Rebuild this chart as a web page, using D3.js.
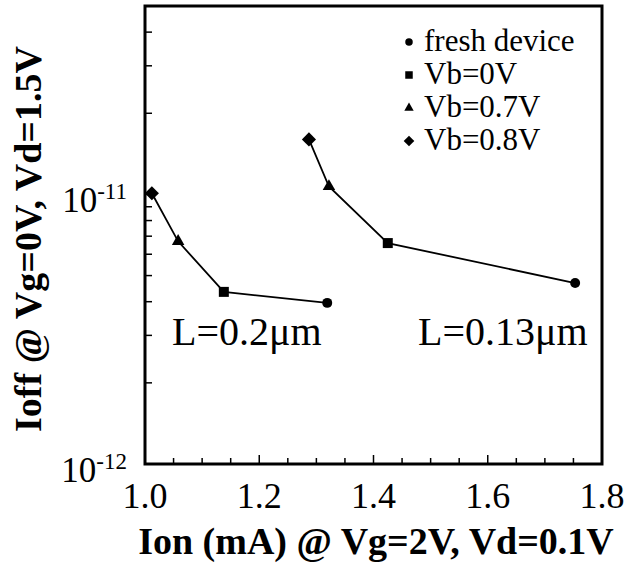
<!DOCTYPE html>
<html><head><meta charset="utf-8">
<script src="https://cdn.jsdelivr.net/npm/d3@7"></script>
<style>body{margin:0;background:#fff}text{font-family:"Liberation Serif","Times New Roman",serif;fill:#000}</style>
</head><body><svg id="c" width="630" height="567"></svg>
<script>
const seriesNames = ["fresh device","Vb=0V","Vb=0.7V","Vb=0.8V"];
const markerTypes = ["circle","square","triangle","diamond"];
// L=0.2um device: order Vb=0.8, 0.7, 0, fresh
const ionL02 = [1.012, 1.058, 1.138, 1.319];
const ioffL02 = [1.01e-11, 6.7e-12, 4.35e-12, 3.96e-12];
// L=0.13um device
const ionL013 = [1.287, 1.322, 1.425, 1.753];
const ioffL013 = [1.60e-11, 1.07e-11, 6.6e-12, 4.69e-12];
const pointMarkers = ["diamond","triangle","square","circle"];
const xTicks = [1.0,1.2,1.4,1.6,1.8];
const yDomain = [1e-12, 5e-11];
const groupLabels = ["L=0.2\u03bcm","L=0.13\u03bcm"];

const svg = d3.select("#c");
const L=145, R=602, T=6, B=464;
const x = d3.scaleLinear().domain([1.0,1.8]).range([L,R]);
const y = d3.scaleLog().domain(yDomain).range([B,T]);

function marker(type, scale){
  const s = scale||1;
  if(type==="circle") return {d:d3.symbol(d3.symbolCircle, 78*s*s)(), rot:0};
  if(type==="square") return {d:d3.symbol(d3.symbolSquare, 100*s*s)(), rot:0};
  if(type==="triangle") return {d:d3.symbol(d3.symbolTriangle, 68*s*s)(), rot:0};
  return {d:d3.symbol(d3.symbolSquare, 100*s*s)(), rot:45};
}

// x ticks (inward), every 0.05
const xMinor = d3.range(1.05,1.8,0.05).map(v=>+v.toFixed(2));
svg.append("g").selectAll("line").data(xMinor).join("line")
  .attr("x1",d=>x(d)).attr("x2",d=>x(d)).attr("y1",B).attr("y2",d=>xTicks.some(t=>Math.abs(t-d)<1e-6)?B-9:B-6)
  .attr("stroke","#000").attr("stroke-width",1.5);
// y ticks (inward)
const yTickVals = [2e-12,3e-12,4e-12,5e-12,6e-12,7e-12,8e-12,9e-12,1e-11,2e-11,3e-11,4e-11];
svg.append("g").selectAll("line").data(yTickVals).join("line")
  .attr("x1",L).attr("x2",d=>d===1e-11?L+10:L+7).attr("y1",d=>y(d)).attr("y2",d=>y(d))
  .attr("stroke","#000").attr("stroke-width",1.5);

// frame
svg.append("rect").attr("x",L).attr("y",T).attr("width",R-L).attr("height",B-T)
  .attr("fill","none").attr("stroke","#000").attr("stroke-width",3);

// x tick labels
svg.append("g").selectAll("text").data(xTicks).join("text")
  .attr("x",d=>x(d)).attr("y",B+44).attr("text-anchor","middle").attr("font-size",36)
  .text(d=>d.toFixed(1));
// y tick labels
const yLab = [{v:1e-12,e:"-12"},{v:1e-11,e:"-11"}];
yLab.forEach(d=>{
  const t = svg.append("text").attr("x",L-18).attr("y",y(d.v)+18).attr("text-anchor","end").attr("font-size",35);
  t.append("tspan").text("10");
  t.append("tspan").attr("dy",-13).attr("font-size",23).text(d.e);
});

// lines & markers
const groups = [{xs:ionL02,ys:ioffL02},{xs:ionL013,ys:ioffL013}];
const line = d3.line().x(d=>x(d[0])).y(d=>y(d[1]));
groups.forEach(g=>{
  const pts = g.xs.map((v,i)=>[v,g.ys[i]]);
  svg.append("path").attr("d",line(pts)).attr("fill","none").attr("stroke","#000").attr("stroke-width",1.8);
  svg.append("g").selectAll("path").data(pts).join("path")
    .attr("transform",(d,i)=>`translate(${x(d[0])},${y(d[1])}) rotate(${marker(pointMarkers[i]).rot})`)
    .attr("d",(d,i)=>marker(pointMarkers[i]).d)
    .attr("fill","#000");
});

// group labels
svg.append("text").attr("x",172).attr("y",345).attr("font-size",40).text(groupLabels[0]);
svg.append("text").attr("x",418).attr("y",345).attr("font-size",40).text(groupLabels[1]);

// legend
seriesNames.forEach((n,i)=>{
  const yy = 42 + i*33;
  const m = marker(markerTypes[i], 0.75);
  svg.append("path").attr("transform",`translate(409,${yy}) rotate(${m.rot})`)
    .attr("d",m.d).attr("fill","#000");
  svg.append("text").attr("x",424).attr("y",yy+9).attr("font-size",31).text(n);
});

// axis titles
svg.append("text").attr("x",376).attr("y",554).attr("text-anchor","middle")
  .attr("font-size",38).attr("font-weight","bold").text("Ion (mA) @ Vg=2V, Vd=0.1V");
svg.append("text").attr("transform",`translate(41,239) rotate(-90)`).attr("text-anchor","middle")
  .attr("font-size",38).attr("font-weight","bold").text("Ioff @ Vg=0V, Vd=1.5V");
</script></body></html>
